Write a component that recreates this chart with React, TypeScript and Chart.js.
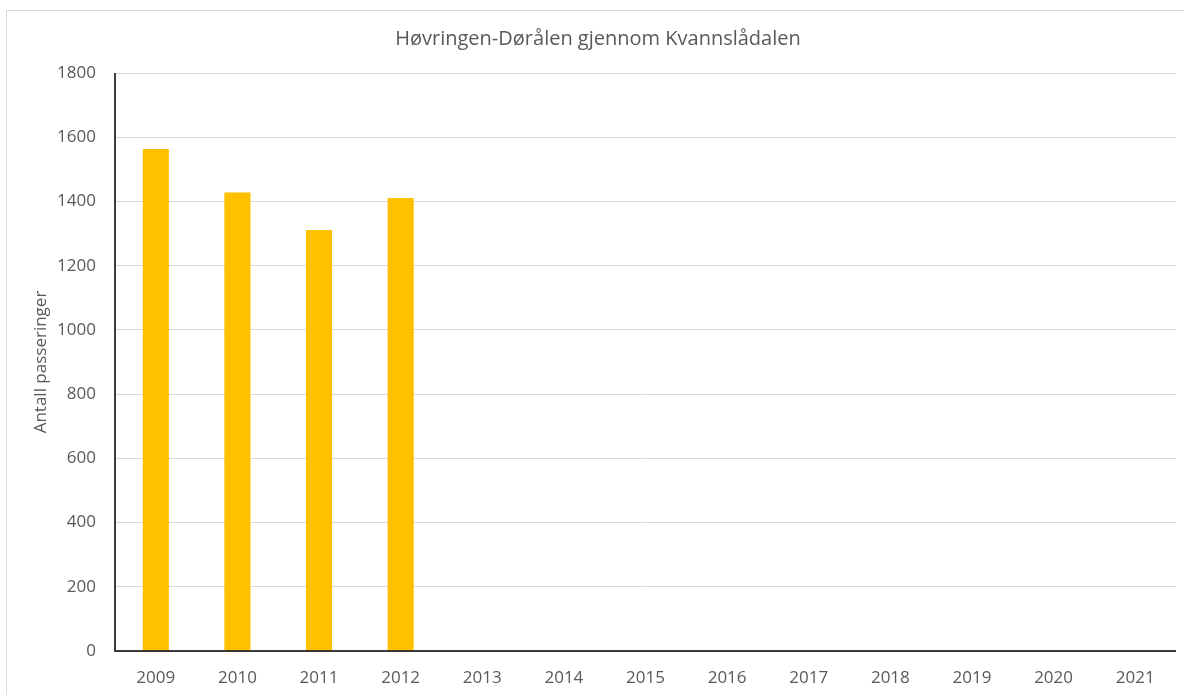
import React, { useEffect, useRef } from "react";
import { Chart, registerables } from "chart.js";

Chart.register(...registerables);

const TITLE = "Høvringen-Dørålen gjennom Kvannslådalen";
const Y_LABEL = "Antall passeringer";
const YEARS = ["2009", "2010", "2011", "2012", "2013", "2014", "2015", "2016", "2017", "2018", "2019", "2020", "2021"];
const PASSES: (number | null)[] = [1563, 1428, 1311, 1411, null, null, null, null, null, null, null, null, null];
const Y_MIN = 0;
const Y_MAX = 1800;
const Y_STEP = 200;

const FONT = "'Open Sans', 'Liberation Sans', sans-serif";
const TEXT = "#595959";

const framePlugin = {
  id: "frame",
  beforeDraw(chart: any) {
    const ctx = chart.ctx;
    ctx.save();
    ctx.fillStyle = "#ffffff";
    ctx.fillRect(0, 0, chart.width, chart.height);
    ctx.strokeStyle = "#d9d9d9";
    ctx.lineWidth = 1;
    ctx.strokeRect(6.5, 10.5, chart.width + 10, chart.height + 10);
    ctx.fillStyle = TEXT;
    ctx.font = `20px ${FONT}`;
    ctx.textAlign = "center";
    ctx.textBaseline = "middle";
    ctx.fillText(TITLE, 598, 39);
    ctx.restore();
  },
  afterDatasetsDraw(chart: any) {
    const { ctx, chartArea } = chart;
    ctx.save();
    ctx.strokeStyle = "#000000";
    ctx.lineWidth = 1.5;
    ctx.beginPath();
    ctx.moveTo(chartArea.left, chartArea.top);
    ctx.lineTo(chartArea.left, chartArea.bottom);
    ctx.lineTo(chartArea.right, chartArea.bottom);
    ctx.stroke();
    ctx.restore();
  },
};

export default function App() {
  const ref = useRef<HTMLCanvasElement>(null);
  useEffect(() => {
    if (!ref.current) return;
    const chart = new Chart(ref.current, {
      type: "bar",
      data: {
        labels: YEARS,
        datasets: [
          {
            label: Y_LABEL,
            data: PASSES,
            backgroundColor: "#ffc000",
            borderWidth: 0,
            barPercentage: 0.32,
            categoryPercentage: 1,
          },
        ],
      },
      options: {
        animation: false,
        responsive: false,
        maintainAspectRatio: false,
        layout: { padding: { top: 73, right: 8, bottom: 0, left: 0 } },
        plugins: {
          legend: { display: false },
          title: { display: false },
          tooltip: { enabled: false },
        },
        scales: {
          x: {
            grid: { display: false, drawTicks: false },
            border: { display: false },
            ticks: { color: TEXT, font: { family: FONT, size: 17 }, padding: 17, maxRotation: 0 },
            afterFit: (s: any) => {
              s.height = 44;
            },
          },
          y: {
            min: Y_MIN,
            max: Y_MAX,
            grid: { color: "#d9d9d9", lineWidth: 1, drawTicks: false },
            border: { display: false },
            ticks: {
              stepSize: Y_STEP,
              color: TEXT,
              font: { family: FONT, size: 17 },
              padding: 19,
              callback: (v: any) => String(v),
            },
            title: {
              display: true,
              text: Y_LABEL,
              color: TEXT,
              font: { family: FONT, size: 17 },
              padding: { top: 31, bottom: 0 },
            },
            afterFit: (s: any) => {
              s.width = 115;
            },
          },
        },
      },
      plugins: [framePlugin],
    });
    return () => chart.destroy();
  }, []);
  return (
    <div style={{ position: "fixed", left: 0, top: 0, width: 1184, height: 695, background: "#fff" }}>
      <canvas ref={ref} width={1184} height={695} style={{ display: "block" }} />
    </div>
  );
}
